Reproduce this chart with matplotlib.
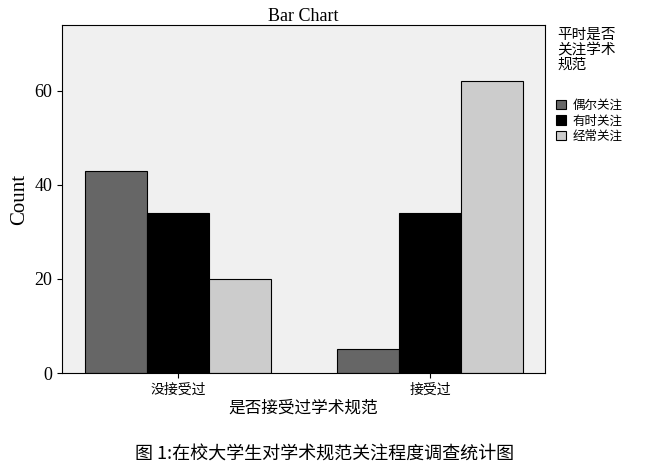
import matplotlib
matplotlib.use("Agg")
import matplotlib.pyplot as plt
import numpy as np

plt.rcParams['font.family'] = ['Noto Sans CJK SC', 'DejaVu Sans']
categories = ['没接受过', '接受过']
series = ['偶尔关注', '有时关注', '经常关注']
values = {'偶尔关注': [43, 5], '有时关注': [34, 34], '经常关注': [20, 62]}
colors = ['#666666', '#000000', '#cccccc']

fig = plt.figure(figsize=(6.5, 4.72), dpi=100)
ax = fig.add_axes([62/650, 1-373/472, 483/650, 348/472])
ax.set_facecolor('#f0f0f0')
x = np.arange(len(categories))
w = 0.246
for i, s in enumerate(series):
    ax.bar(x + (i-1)*w, values[s], w, color=colors[i], edgecolor='black', linewidth=0.8, label=s)
ax.set_xlim(-0.46, 1.456)
ax.set_ylim(0, 74)
ax.set_yticks([0, 20, 40, 60])
ax.set_yticklabels(['0', '20', '40', '60'], family='Liberation Serif', fontsize=13)
ax.set_xticks(x)
ax.set_xticklabels(categories, fontsize=10)
ax.set_ylabel('Count', family='Liberation Serif', fontsize=15)
ax.set_xlabel('是否接受过学术规范', fontsize=12, labelpad=2)
ax.set_title('Bar Chart', family='Liberation Serif', fontsize=13, pad=3)
for sp in ['top', 'right']:
    ax.spines[sp].set_visible(False)
ax.spines['top'].set_visible(True)
ax.spines['right'].set_visible(True)
leg = ax.legend(loc='upper left', bbox_to_anchor=(1.0, 0.82), frameon=False, fontsize=9,
                handlelength=0.8, handleheight=0.8, handletextpad=0.5, labelspacing=0.2)
fig.text(557/650, 1-50/472, '平时是否\n关注学术\n规范', fontsize=10.5, va='center', ha='left', linespacing=1.1)
fig.text(0.5, 1-455/472, '图 1:在校大学生对学术规范关注程度调查统计图', fontsize=13, ha='center', va='center')
fig.savefig('out.png', dpi=100)
